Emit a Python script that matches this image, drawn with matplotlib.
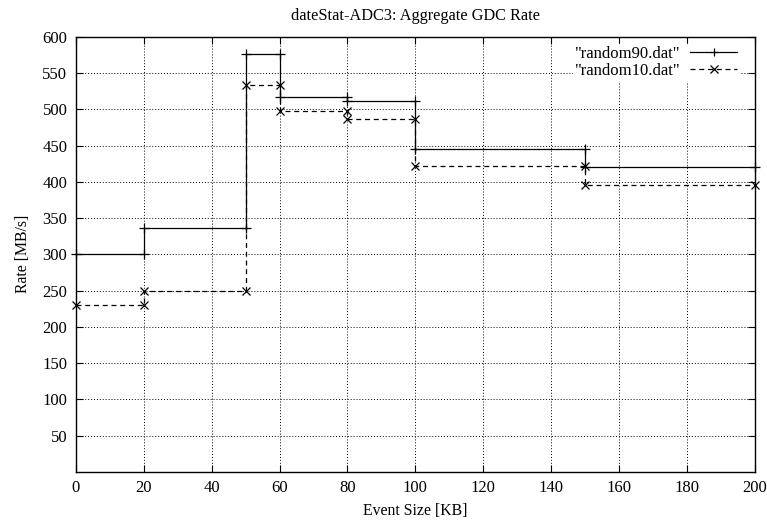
import numpy as np
import matplotlib.pyplot as plt

plt.rcParams['font.family'] = ['Liberation Serif', 'DejaVu Serif']
plt.rcParams['font.size'] = 12

# bin edges of event size and the rate measured in each bin
edges = [0, 20, 50, 60, 80, 100, 150, 200]
rate_random90 = [300, 336, 576, 517, 512, 445, 420]
rate_random10 = [230, 250, 534, 498, 487, 422, 395]


def corners(edges, levels):
    # each level is held flat across its bin, points at both ends
    xs, ys = [], []
    for i, lv in enumerate(levels):
        xs += [edges[i], edges[i + 1]]
        ys += [lv, lv]
    return xs, ys


fig = plt.figure(figsize=(7.67, 5.25), dpi=100)
ax = fig.add_axes([0.0987, 0.101, 0.8857, 0.829])

x90, y90 = corners(edges, rate_random90)
x10, y10 = corners(edges, rate_random10)

ax.plot(x90, y90, color='black', lw=0.9, ls='-', marker='+', ms=7, mew=0.9,
        label='"random90.dat"', clip_on=False, zorder=3)
ax.plot(x10, y10, color='black', lw=0.9, ls=(0, (4, 3)), marker='x', ms=6, mew=0.9,
        label='"random10.dat"', clip_on=False, zorder=3)

ax.set_xlim(0, 200)
ax.set_ylim(0, 600)
ax.set_xticks(np.arange(0, 201, 20))
ax.set_yticks(np.arange(50, 601, 50))
ax.grid(True, color='black', ls=(0, (1, 2)), lw=0.7)
ax.tick_params(direction='in', length=5, width=0.8, top=True, right=True,
               labelsize=12, pad=6)
for s in ax.spines.values():
    s.set_linewidth(1.0)

ax.set_xlabel('Event Size [KB]', fontsize=11.3, labelpad=5)
ax.set_ylabel('Rate [MB/s]', fontsize=11.3, labelpad=8)
ax.set_title('dateStat-ADC3: Aggregate GDC Rate', fontsize=11.7, pad=12)

leg = ax.legend(loc='upper right', markerfirst=False, handlelength=2.8,
                fancybox=False, framealpha=1, edgecolor='white',
                facecolor='white', borderpad=0.1, labelspacing=0.08,
                handletextpad=0.6, fontsize=12, markerscale=0.85,
                bbox_to_anchor=(0.988, 1.002))
leg.set_zorder(4)

fig.savefig('out.png', dpi=100)
